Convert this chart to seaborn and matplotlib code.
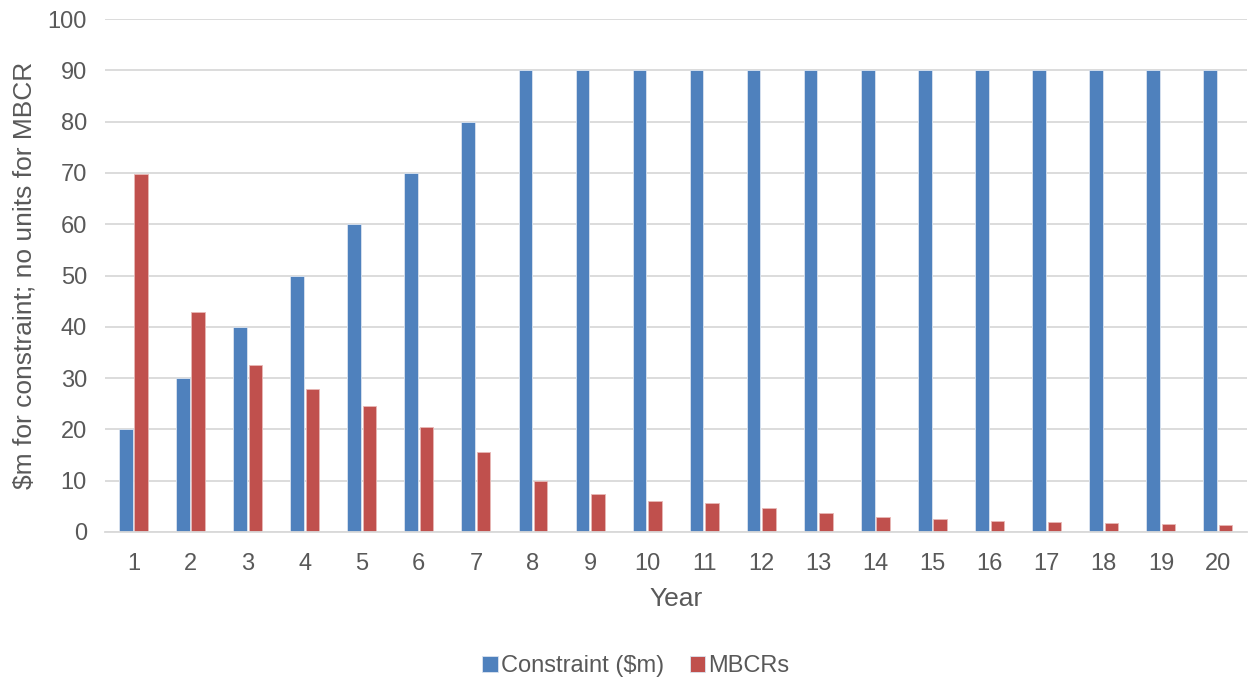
import matplotlib
matplotlib.use("Agg")
import matplotlib.pyplot as plt
import seaborn as sns
import pandas as pd

years = list(range(1, 21))
constraint = [20, 30, 40, 50, 60, 70, 80, 90, 90, 90, 90, 90, 90, 90, 90, 90, 90, 90, 90, 90]
mbcrs = [69.8, 42.9, 32.6, 27.9, 24.6, 20.5, 15.6, 9.9, 7.4, 6.1, 5.6, 4.7, 3.7,
         3.0, 2.5, 2.1, 1.9, 1.7, 1.6, 1.3]
series_names = ["Constraint ($m)", "MBCRs"]
colors = ["#4F81BD", "#C0504D"]

df = pd.DataFrame({
    "Year": years * 2,
    "value": constraint + mbcrs,
    "series": [series_names[0]] * len(years) + [series_names[1]] * len(years),
})

sns.set_theme(style="white")
plt.rcParams["font.family"] = ["Liberation Sans", "DejaVu Sans"]

fig = plt.figure(figsize=(12.49, 6.79), dpi=100)
ax = fig.add_axes([0.084, 0.2165, 0.914, 0.7555])

sns.barplot(data=df, x="Year", y="value", hue="series", palette=colors,
            width=0.54, gap=0.12, ax=ax, edgecolor="#dbe4f0", linewidth=0.6,
            saturation=1, legend=True)
for bar in ax.patches[len(years):2 * len(years)]:
    bar.set_edgecolor("#e8b8b6")

ax.set_ylim(0, 100)
ax.set_yticks(range(0, 101, 10))
ax.set_xlim(-0.5, 19.5)
ax.yaxis.grid(True, color="#D9D9D9", linewidth=1.3)
ax.set_axisbelow(True)
for s in ["top", "right", "left"]:
    ax.spines[s].set_visible(False)
ax.spines["bottom"].set_color("#D9D9D9")
ax.spines["bottom"].set_linewidth(1.3)
ax.tick_params(axis="both", length=0, labelsize=17, labelcolor="#595959")
ax.tick_params(axis="x", pad=15)
ax.tick_params(axis="y", pad=13)

ax.set_xlabel("Year", fontsize=19, color="#595959", labelpad=9)
ax.set_ylabel("\\$m for constraint; no units for MBCR", fontsize=19, color="#595959", labelpad=8)

handles, labels = ax.get_legend_handles_labels()
ax.legend(handles, [l.replace("$", "\\$") for l in labels], loc="center",
          bbox_to_anchor=(0.465, -0.262), ncol=2, frameon=False, fontsize=17,
          handlelength=0.65, handleheight=0.65, handletextpad=0.12, columnspacing=1.1,
          labelcolor="#595959")

fig.savefig("out.png", dpi=100, facecolor="white")
